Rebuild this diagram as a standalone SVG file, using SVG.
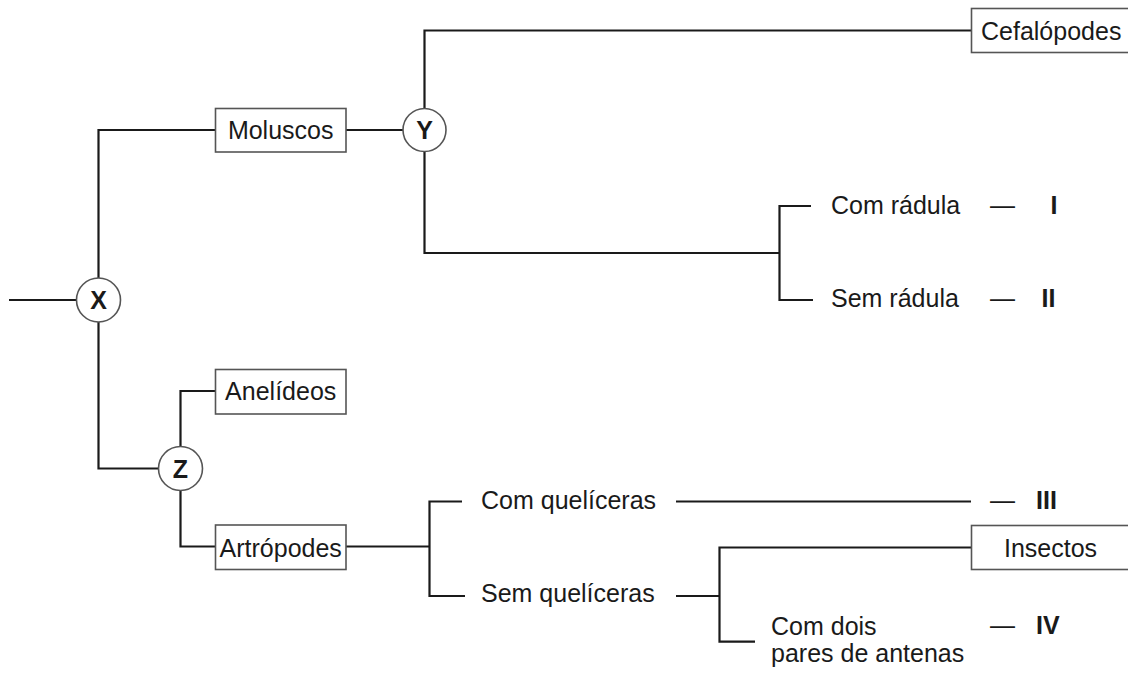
<svg xmlns="http://www.w3.org/2000/svg" width="1128" height="673" viewBox="0 0 1128 673">
  <style>
    .ln { fill: none; stroke: #1a1a1a; stroke-width: 2.2; }
    .box { fill: #ffffff; stroke: #555555; stroke-width: 1.6; }
    .circ { fill: #ffffff; stroke: #555555; stroke-width: 1.6; }
    text { font-family: "Liberation Sans", Arial, sans-serif; font-size: 25px; fill: #1a1a1a; }
    .c { text-anchor: middle; }
    .b { font-weight: bold; }
  </style>
  <rect x="0" y="0" width="1128" height="673" fill="#ffffff"/>
  <g id="connectors">
    <path class="ln" d="M9,300 H76.5"/>
    <path class="ln" d="M98.5,278 V130 H215.5"/>
    <path class="ln" d="M98.5,322 V468.5 H158.5"/>
    <path class="ln" d="M346,130 H403"/>
    <path class="ln" d="M424.5,108.5 V30.5 H971.5"/>
    <path class="ln" d="M424.5,151.5 V253 H779.5"/>
    <path class="ln" d="M811,206 H779.5 V300 H813"/>
    <path class="ln" d="M180.5,446.5 V391 H215.5"/>
    <path class="ln" d="M180.5,490.5 V546.5 H215.5"/>
    <path class="ln" d="M346,546.5 H429.5"/>
    <path class="ln" d="M462,501.5 H429.5 V596 H465"/>
    <path class="ln" d="M676,501.5 H971"/>
    <path class="ln" d="M676,596 H719.5"/>
    <path class="ln" d="M971.5,547.5 H719.5 V641.7 H755"/>
  </g>
  <g id="node-X">
    <circle class="circ" cx="98.5" cy="300" r="22"/>
    <text class="c b" x="98.5" y="309">X</text>
  </g>
  <g id="node-Y">
    <circle class="circ" cx="424.5" cy="130" r="21.5"/>
    <text class="c b" x="424.5" y="139">Y</text>
  </g>
  <g id="node-Z">
    <circle class="circ" cx="180.5" cy="468.5" r="22"/>
    <text class="c b" x="180.5" y="477.5">Z</text>
  </g>
  <g id="node-moluscos">
    <rect class="box" x="215.5" y="108.5" width="130.5" height="43.5"/>
    <text class="c" x="280.7" y="139">Moluscos</text>
  </g>
  <g id="node-anelideos">
    <rect class="box" x="215.5" y="369.5" width="130.5" height="44.5"/>
    <text class="c" x="280.7" y="400">Anelídeos</text>
  </g>
  <g id="node-artropodes">
    <rect class="box" x="215.5" y="525" width="130.5" height="44.5"/>
    <text class="c" x="280.7" y="556.5">Artrópodes</text>
  </g>
  <g id="node-cefalopodes">
    <rect class="box" x="971.5" y="8.5" width="170" height="44"/>
    <text x="981" y="40">Cefalópodes</text>
  </g>
  <g id="node-insectos">
    <rect class="box" x="971.5" y="525.5" width="170" height="44"/>
    <text x="1004" y="556.5">Insectos</text>
  </g>
  <g id="node-com-radula">
    <text x="831" y="214">Com rádula</text>
    <text x="990" y="214">—</text>
    <text class="b" x="1050.5" y="214">I</text>
  </g>
  <g id="node-sem-radula">
    <text x="831" y="307">Sem rádula</text>
    <text x="990" y="307">—</text>
    <text class="b" x="1041.5" y="307">II</text>
  </g>
  <g id="node-com-quel">
    <text x="481" y="508.5">Com quelíceras</text>
    <text x="990" y="508.5">—</text>
    <text class="b" x="1036" y="508.5">III</text>
  </g>
  <g id="node-sem-quel">
    <text x="481" y="602">Sem quelíceras</text>
  </g>
  <g id="node-dois-pares">
    <text x="771" y="635">Com dois</text>
    <text x="771" y="662">pares de antenas</text>
    <text x="990" y="633.5">—</text>
    <text class="b" x="1036" y="633.5">IV</text>
  </g>
</svg>
